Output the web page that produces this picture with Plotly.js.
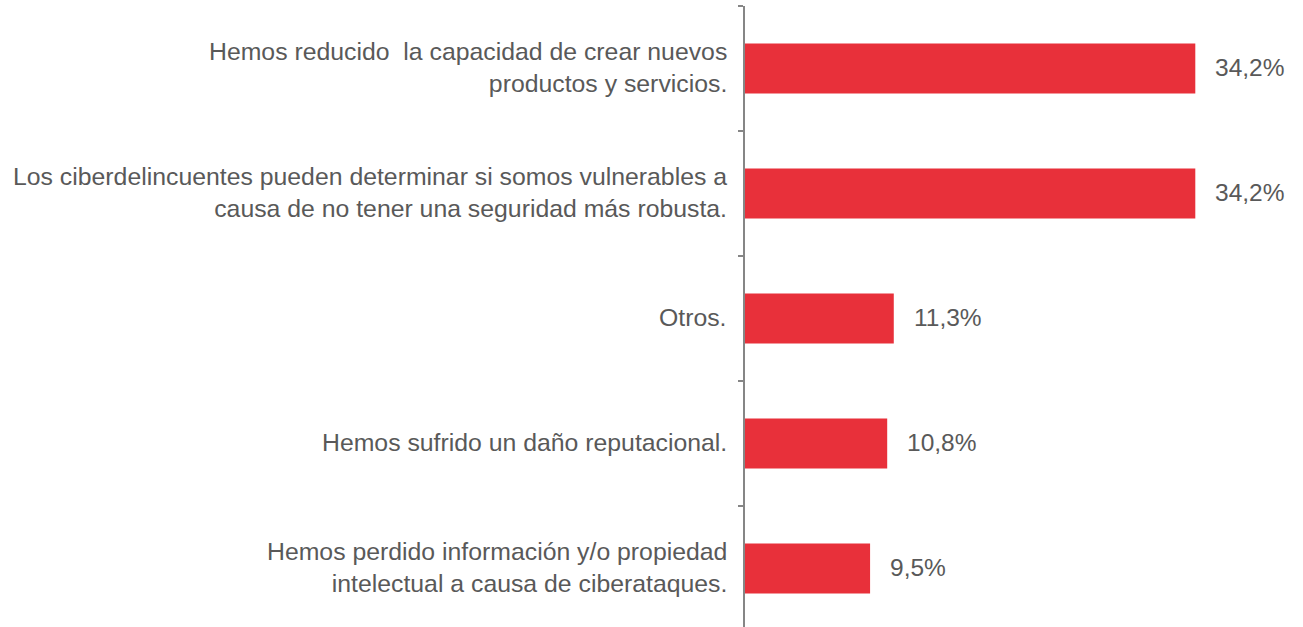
<!DOCTYPE html>
<html>
<head>
<meta charset="utf-8">
<script src="https://cdn.plot.ly/plotly-3.0.1.min.js"></script>
<style>html,body{margin:0;padding:0;background:#fff;}#chart{width:1303px;height:627px;}</style>
</head>
<body>
<div id="chart"></div>
<script>
// Categories, top to bottom
var categories = [
  "Hemos reducido \u00a0la capacidad de crear nuevos<br>productos y servicios.",
  "Los ciberdelincuentes pueden determinar si somos vulnerables a<br>causa de no tener una seguridad más robusta.",
  "Otros.",
  "Hemos sufrido un daño reputacional.",
  "Hemos perdido información y/o propiedad<br>intelectual a causa de ciberataques."
];
// Percent values
var values = [34.2, 34.2, 11.3, 10.8, 9.5];
// Boundaries between categories (tick marks on the vertical axis)
var boundaryTicks = [-0.5, 0.5, 1.5, 2.5, 3.5];

var idx = categories.map(function(_, i){ return i; });
var valueLabels = values.map(function(v){ return v.toFixed(1).replace('.', ',') + '%'; });

var font = "'Liberation Sans', Arial, Helvetica, sans-serif";
var textColor = '#595959';

var trace = {
  type: 'bar',
  orientation: 'h',
  x: values,
  y: idx,
  width: 0.4,
  marker: {color: '#E8303A', line: {width: 0}},
  hoverinfo: 'skip'
};

var annotations = [];
categories.forEach(function(c, i){
  annotations.push({
    x: 0, y: i, xref: 'x', yref: 'y',
    text: c, showarrow: false,
    xanchor: 'right', yanchor: 'middle', align: 'right',
    xshift: -16, yshift: 1,
    font: {family: font, size: 24.8, color: textColor}
  });
  annotations.push({
    x: values[i], y: i, xref: 'x', yref: 'y',
    text: valueLabels[i], showarrow: false,
    xanchor: 'left', yanchor: 'middle', align: 'left',
    xshift: 18, yshift: 1,
    font: {family: font, size: 24.5, color: textColor}
  });
});

var layout = {
  width: 1303, height: 627,
  margin: {l: 745, r: 5, t: 6, b: 0, pad: 0},
  paper_bgcolor: '#ffffff', plot_bgcolor: '#ffffff',
  showlegend: false,
  xaxis: {range: [0, 42], visible: false, showgrid: false, zeroline: false, fixedrange: true},
  yaxis: {
    range: [4.468, -0.5],
    tickvals: boundaryTicks,
    showticklabels: false,
    ticks: 'outside', ticklen: 5, tickwidth: 2, tickcolor: '#868686',
    showline: true, linecolor: '#868686', linewidth: 2,
    showgrid: false, zeroline: false, fixedrange: true
  },
  annotations: annotations,
  font: {family: font, color: textColor}
};

Plotly.newPlot('chart', [trace], layout, {displayModeBar: false, staticPlot: true});
</script>
</body>
</html>
